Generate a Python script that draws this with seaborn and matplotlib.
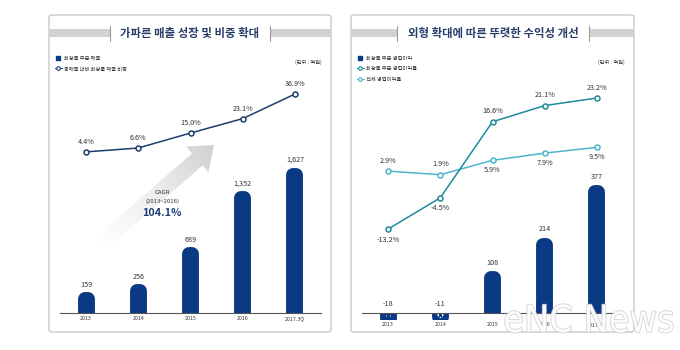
import numpy as np
import pandas as pd
import seaborn as sns
import matplotlib.pyplot as plt
import matplotlib.patheffects as pe
from matplotlib.patches import Rectangle, FancyBboxPatch, Polygon
from matplotlib.colors import LinearSegmentedColormap
from matplotlib.lines import Line2D

# data
years = ['2013', '2014', '2015', '2016', '2017.3Q']
sales = [159, 256, 689, 1352, 1627]            # 화장품 부문 매출 (억원)
sales_share = [4.4, 6.6, 15.0, 23.1, 36.9]     # 총매출 대비 화장품 매출 비중 (%)
profit = [-18, -11, 108, 214, 377]             # 화장품 부문 영업이익 (억원)
profit_margin = [-13.2, -4.5, 16.6, 21.1, 23.2]  # 화장품 부문 영업이익률 (%)
total_margin = [2.9, 1.9, 5.9, 7.9, 9.5]         # 전체 영업이익률 (%)
cagr_text = '104.1%'

navy = '#0b3a84'
line_navy = '#1d3d6e'
teal_dark = '#1f8a9c'
teal_light = '#4db6cc'
txt = '#333333'
title_col = '#263d6a'

sns.set_theme(style='white')
plt.rcParams['font.family'] = ['Noto Sans CJK KR', 'DejaVu Sans']

W, H = 680, 350
fig = plt.figure(figsize=(6.8, 3.5), dpi=100)
fig.patch.set_facecolor('white')

# background axes in pixel units (y down) for decorations
bg = fig.add_axes([0, 0, 1, 1], zorder=0.5)
bg.set_xlim(0, W)
bg.set_ylim(H, 0)
bg.axis('off')


def fx(x):
    return x / W


def fy(y):
    return 1 - y / H


def panel(x0, x1, title, tx0, tx1):
    # rounded frame, grey bands and title
    fig.add_artist(FancyBboxPatch((fx(x0), fy(332)), fx(x1 - x0), (332 - 15) / H,
                                  boxstyle='round,pad=0,rounding_size=0.006',
                                  transform=fig.transFigure, facecolor='white',
                                  edgecolor='#c9c9c9', lw=1.0, zorder=0))
    for a, b in [(x0, tx0), (tx1, x1)]:
        bg.add_patch(Rectangle((a, 29), b - a, 8, facecolor='#d2d2d2', edgecolor='none'))
    for xv in [tx0, tx1]:
        bg.plot([xv, xv], [26, 41], color='#9a9a9a', lw=0.8)
    fig.text(fx((tx0 + tx1) / 2), fy(34), title, ha='center', va='center',
             fontsize=8.2, fontweight='bold', color=title_col)
    fig.text(fx(x1 - 9), fy(62), '(단위 : 억원)', ha='right', va='center',
             fontsize=3.8, color=txt)


def round_bars(ax, color):
    # thick round-joined edge gives the pill-shaped bar tops;
    # clip each bar to its own side of zero (and to the axes)
    ymin, ymax = ax.get_ylim()
    for p in ax.patches:
        p.set_edgecolor(color)
        p.set_linewidth(10)
        p.set_joinstyle('round')
        if p.get_height() >= 0:
            clip = Rectangle((-1, 0), 10, ymax, transform=ax.transData)
        else:
            clip = Rectangle((-1, ymin), 10, -ymin, transform=ax.transData)
        p.set_clip_path(clip)


def style_axes(ax):
    sns.despine(ax=ax, left=True)
    ax.set_yticks([])
    ax.set_xlabel('')
    ax.set_ylabel('')
    ax.tick_params(axis='x', length=0, labelsize=3.8, labelcolor=txt)
    ax.patch.set_alpha(0)


def open_line(ax, vals, color):
    sns.pointplot(x=years, y=vals, color=color, markers='o', linestyles='-',
                  errorbar=None, ax=ax, markersize=3.6, linewidth=1.1,
                  markerfacecolor='white', markeredgewidth=1.1)


# ---------------- left panel ----------------
panel(49, 331, '가파른 매출 성장 및 비중 확대', 110, 270)

# CAGR gradient arrow (fades toward the tail)
tail = np.array([100.0, 244.0])
tip = np.array([214.0, 145.0])
u = (tip - tail) / np.linalg.norm(tip - tail)
n = np.array([-u[1], u[0]])
neck = tip - u * 22
arrow_pts = [tail + n * 8, neck + n * 8, neck + n * 17, tip,
             neck - n * 17, neck - n * 8, tail - n * 8]
arrow = Polygon(arrow_pts, closed=True, facecolor='none', edgecolor='none')
bg.add_patch(arrow)
gx, gy = np.meshgrid(np.linspace(80, 230, 200), np.linspace(130, 260, 200))
proj = ((gx - tail[0]) * u[0] + (gy - tail[1]) * u[1]) / np.linalg.norm(tip - tail)
fade = LinearSegmentedColormap.from_list('fade', ['#ffffff', '#eeeeee', '#d0d0d0'])
im = bg.imshow(np.clip(proj, 0, 1), cmap=fade, vmin=0, vmax=1,
               extent=(80, 230, 260, 130), origin='upper', aspect='auto')
im.set_clip_path(arrow)
bg.set_xlim(0, W)
bg.set_ylim(H, 0)

ax1 = fig.add_axes([fx(60), fy(313), fx(261), 233 / H], zorder=1)
sns.barplot(x=years, y=sales, color=navy, width=0.06, saturation=1, ax=ax1)
ax1.set_ylim(0, 2741)
round_bars(ax1, navy)
style_axes(ax1)
ax1.spines['bottom'].set_color('#555555')
ax1.spines['bottom'].set_linewidth(0.8)
ax1.tick_params(axis='x', pad=2.3)
for i, v in enumerate(sales):
    ax1.annotate(f'{v:,}', (i, v), xytext=(0, 10.5), textcoords='offset points',
                 ha='center', va='center', fontsize=5.2, color=txt)

ax1b = ax1.twinx()
open_line(ax1b, sales_share, line_navy)
ax1b.set_ylim(-86.1, 44.8)
ax1b.axis('off')
for i, v in enumerate(sales_share):
    ax1b.annotate(f'{v:.1f}%', (i, v), xytext=(0, 7), textcoords='offset points',
                  ha='center', va='center', fontsize=5.2, color=txt)

fig.text(fx(162), fy(192), 'CAGR', ha='center', va='center', fontsize=4.3, color=txt)
fig.text(fx(162), fy(201), '(2013~2016)', ha='center', va='center', fontsize=4.3, color=txt)
fig.text(fx(162), fy(213.5), cagr_text, ha='center', va='center', fontsize=7.8,
         fontweight='bold', color='#1e3f7a')

h_bar = Line2D([], [], marker='s', ls='none', color=navy, markersize=3.2)
h_l1 = Line2D([], [], marker='o', color=line_navy, lw=0.8, markersize=2.6,
              markerfacecolor='white', markeredgewidth=0.8)
fig.legend([h_bar, h_l1], ['화장품 부문 매출', '총매출 대비 화장품 매출 비중'],
           loc='upper left', bbox_to_anchor=(fx(55), fy(56)), frameon=False,
           fontsize=3.8, handlelength=1.3, handletextpad=0.5, labelspacing=1.0,
           borderpad=0, borderaxespad=0, labelcolor=txt)

# ---------------- right panel ----------------
panel(351, 634, '외형 확대에 따른 뚜렷한 수익성 개선', 397, 589)

ax2 = fig.add_axes([fx(362), fy(319.5), fx(261), 239.5 / H], zorder=1)
sns.barplot(x=years, y=profit, color=navy, width=0.06, saturation=1, ax=ax2)
ax2.set_ylim(-20.3, 728)
round_bars(ax2, navy)
style_axes(ax2)
ax2.spines['bottom'].set_visible(False)
ax2.axhline(0, color='#555555', lw=0.8, zorder=3)
ax2.tick_params(axis='x', pad=1.8)
for i, v in enumerate(profit):
    ax2.annotate(f'{v:,}', (i, max(v, 0)), xytext=(0, 11 if v > 0 else 6.5),
                 textcoords='offset points', ha='center', va='center',
                 fontsize=5.2, color=txt)

ax2b = ax2.twinx()
open_line(ax2b, total_margin, teal_light)
open_line(ax2b, profit_margin, teal_dark)
ax2b.set_ylim(-38.3, 28.2)
ax2b.axis('off')
for i, v in enumerate(profit_margin):
    off = -7.5 if i < 2 else 7.5
    ax2b.annotate(f'{v:.1f}%', (i, v), xytext=(0, off), textcoords='offset points',
                  ha='center', va='center', fontsize=5.2, color=txt)
for i, v in enumerate(total_margin):
    off = 7.5 if i < 2 else -7
    ax2b.annotate(f'{v:.1f}%', (i, v), xytext=(0, off), textcoords='offset points',
                  ha='center', va='center', fontsize=5.2, color=txt)

h_l2 = Line2D([], [], marker='o', color=teal_dark, lw=0.8, markersize=2.6,
              markerfacecolor='white', markeredgewidth=0.8)
h_l3 = Line2D([], [], marker='o', color=teal_light, lw=0.8, markersize=2.6,
              markerfacecolor='white', markeredgewidth=0.8)
fig.legend([h_bar, h_l2, h_l3], ['화장품 부문 영업이익', '화장품 부문 영업이익률', '전체 영업이익률'],
           loc='upper left', bbox_to_anchor=(fx(357), fy(56)), frameon=False,
           fontsize=3.8, handlelength=1.3, handletextpad=0.5, labelspacing=1.0,
           borderpad=0, borderaxespad=0, labelcolor=txt)

# watermark
wm = fig.text(fx(589), fy(322), 'eNC News', ha='center', va='center', fontsize=27,
              family=['Liberation Sans Narrow', 'DejaVu Sans'], color='white', alpha=0.85,
              path_effects=[pe.withStroke(linewidth=1.2, foreground='#cfcfcf')], zorder=10)
wm.set_fontstretch('condensed')

fig.savefig('out.png', dpi=100, facecolor='white')
